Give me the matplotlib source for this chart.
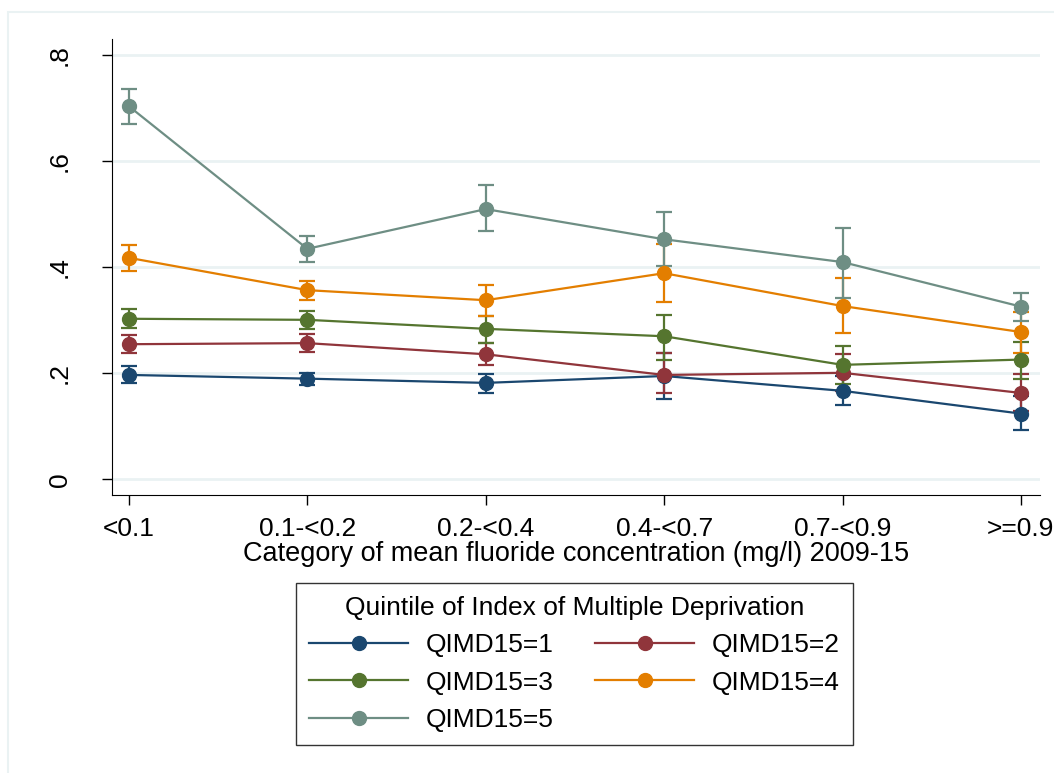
import matplotlib.pyplot as plt
from matplotlib.lines import Line2D
from matplotlib.patches import Rectangle

plt.rcParams["font.family"] = ["Liberation Sans", "DejaVu Sans"]

categories = ["<0.1", "0.1-<0.2", "0.2-<0.4", "0.4-<0.7", "0.7-<0.9", ">=0.9"]
groups = ["QIMD15=1", "QIMD15=2", "QIMD15=3", "QIMD15=4", "QIMD15=5"]
colors = ["#1A476F", "#90353B", "#55752F", "#E37E00", "#6E8E84"]

# point estimates per group
q1 = [0.197, 0.190, 0.182, 0.195, 0.167, 0.124]
q2 = [0.255, 0.257, 0.236, 0.197, 0.201, 0.163]
q3 = [0.303, 0.301, 0.284, 0.270, 0.216, 0.226]
q4 = [0.418, 0.357, 0.338, 0.389, 0.327, 0.278]
q5 = [0.704, 0.435, 0.510, 0.453, 0.410, 0.326]

# confidence limits
q1_lo = [0.181, 0.178, 0.163, 0.152, 0.140, 0.093]
q1_hi = [0.214, 0.201, 0.198, 0.238, 0.195, 0.158]
q2_lo = [0.238, 0.240, 0.216, 0.162, 0.167, 0.128]
q2_hi = [0.273, 0.274, 0.257, 0.238, 0.236, 0.199]
q3_lo = [0.285, 0.284, 0.258, 0.225, 0.179, 0.189]
q3_hi = [0.321, 0.318, 0.309, 0.311, 0.252, 0.260]
q4_lo = [0.393, 0.338, 0.309, 0.334, 0.277, 0.238]
q4_hi = [0.442, 0.374, 0.367, 0.445, 0.379, 0.316]
q5_lo = [0.670, 0.410, 0.469, 0.402, 0.343, 0.299]
q5_hi = [0.737, 0.459, 0.556, 0.504, 0.474, 0.351]

means = [q1, q2, q3, q4, q5]
lows = [q1_lo, q2_lo, q3_lo, q4_lo, q5_lo]
highs = [q1_hi, q2_hi, q3_hi, q4_hi, q5_hi]

FS = 19

fig = plt.figure(figsize=(10.54, 7.73), dpi=100)
fig.patches.append(Rectangle((8 / 1054, -0.1), 1.2, 0.1 + 1 - 12 / 773,
                             transform=fig.transFigure, fill=False,
                             edgecolor="#EAF2F3", linewidth=1.5))

ax = fig.add_axes([112 / 1054, 1 - 495 / 773, (1040 - 112) / 1054, (495 - 39) / 773])
x = list(range(len(categories)))

for m, lo, hi, c in zip(means, lows, highs, colors):
    yerr = [[a - b for a, b in zip(m, lo)], [b - a for a, b in zip(m, hi)]]
    ax.errorbar(x, m, yerr=yerr, fmt="none", ecolor=c, elinewidth=1.6,
                capsize=6, capthick=1.6, zorder=3)
for m, c in zip(means, colors):
    ax.plot(x, m, color=c, lw=1.6, marker="o", ms=10, zorder=4)

ax.set_xlim(-0.095, 5.107)
ax.set_ylim(-0.0296, 0.831)
ax.set_yticks([0, 0.2, 0.4, 0.6, 0.8])
ax.set_yticklabels(["0", ".2", ".4", ".6", ".8"], rotation=90, va="center")
ax.set_xticks(x)
ax.set_xticklabels(categories)
ax.tick_params(labelsize=FS, length=7, width=1, color="#000000")
ax.tick_params(axis="x", pad=9)
ax.tick_params(axis="y", pad=22)
ax.yaxis.grid(True, color="#EAF2F3", lw=2)
ax.set_axisbelow(True)
for s in ["top", "right"]:
    ax.spines[s].set_visible(False)
ax.set_xlabel("Category of mean fluoride concentration (mg/l) 2009-15", fontsize=19.5, labelpad=0)

handles = [Line2D([], [], color=c, lw=1.6, marker="o", ms=10) for c in colors]
order = [0, 2, 4, 1, 3]
leg = fig.legend([handles[i] for i in order], [groups[i] for i in order],
                 ncol=2, loc="upper center", bbox_to_anchor=(0.545, 1 - 583 / 773),
                 title="Quintile of Index of Multiple Deprivation", fontsize=FS,
                 title_fontsize=FS, frameon=True, fancybox=False, edgecolor="black",
                 handlelength=3.75, handletextpad=0.65, numpoints=1, columnspacing=1.6,
                 labelspacing=0.5, borderpad=0.5, borderaxespad=0)
leg.get_frame().set_linewidth(1)

fig.savefig("out.png", dpi=100)
